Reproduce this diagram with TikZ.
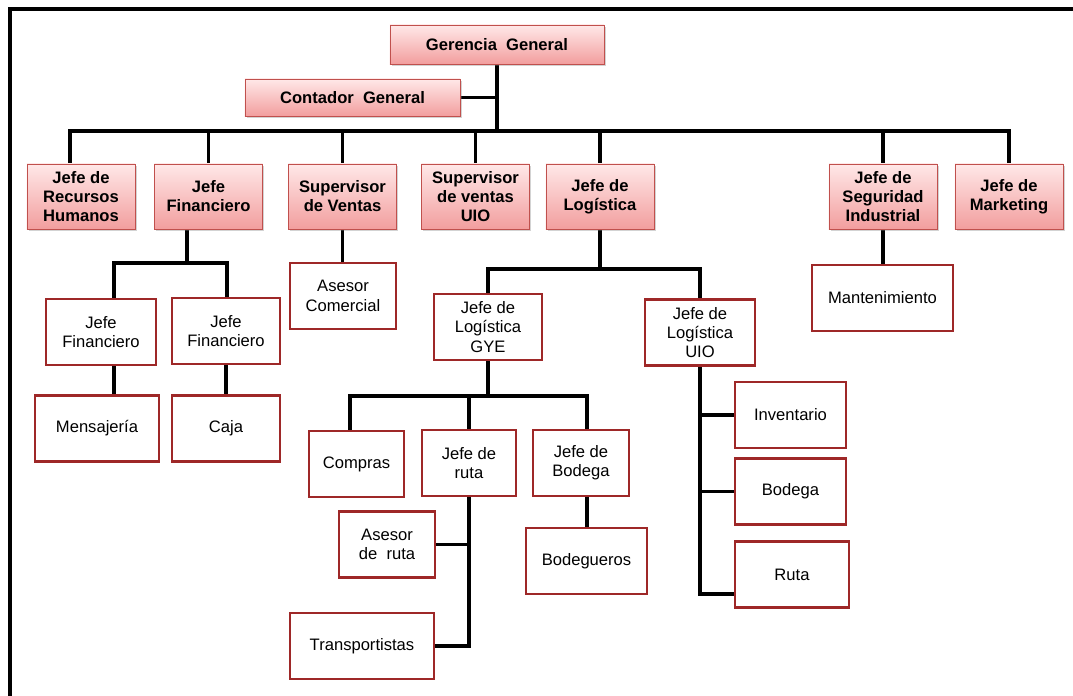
\documentclass[tikz,border=0pt]{standalone}
\usepackage{fontspec}
\setmainfont{Liberation Sans}
\usepackage{xcolor}
\usetikzlibrary{positioning, shadows, backgrounds}

\definecolor{pinktop}{RGB}{255,232,232}
\definecolor{pinkbot}{RGB}{242,158,158}
\definecolor{pinkedge}{RGB}{192,80,77}
\definecolor{boxred}{RGB}{158,40,40}

\begin{document}
\begin{tikzpicture}[x=0.025cm, y=-0.025cm,
    headbox/.style={draw=pinkedge, line width=0.6pt, rectangle, top color=pinktop, bottom color=pinkbot,
        drop shadow={shadow xshift=1.2pt, shadow yshift=-1.2pt, opacity=0.35},
        font=\fontsize{11.8}{13.6}\selectfont\bfseries, align=center, inner sep=1pt,
        minimum width=2.7cm, minimum height=1.625cm},
    unitbox/.style={draw=boxred, line width=1.6pt, rectangle, fill=white,
        font=\fontsize{11.8}{13.8}\selectfont, align=center, inner sep=1pt,
        minimum width=2.7cm, minimum height=1.65cm},
    link/.style={line width=2.3pt, black, line cap=rect},
    frame/.style={line width=3.2pt, black}]
        \useasboundingbox (0,0) rectangle (1073,696);

        % Marco
        \draw[frame] (10,696) -- (10,9) -- (1073,9);

        % Gerencia
        \node[headbox, minimum width=5.35cm, minimum height=0.975cm] (gerencia) at (497,44.5) {Gerencia~ General};
        \node[headbox, minimum width=5.375cm, minimum height=0.925cm] (contador) at (352.5,97.5) {Contador~ General};

        % Jefaturas
        \node[headbox] (rrhh) at (81,196.5) {Jefe de\\Recursos\\Humanos};
        \node[headbox] (jfin) at (208.5,196.5) {Jefe\\Financiero};
        \node[headbox] (supv) at (342.5,196.5) {Supervisor\\de Ventas};
        \node[headbox] (supuio) at (475.5,196.5) {Supervisor\\de ventas\\UIO};
        \node[headbox] (jlog) at (600,196.5) {Jefe de\\Logística};
        \node[headbox] (jseg) at (883,196.5) {Jefe de\\Seguridad\\Industrial};
        \node[headbox] (jmkt) at (1009,196.5) {Jefe de\\Marketing};

        % Financiero
        \node[unitbox, minimum width=2.75cm] (fin1) at (101,332) {Jefe\\Financiero};
        \node[unitbox] (fin2) at (226,331) {Jefe\\Financiero};
        \node[unitbox, minimum width=3.1cm] (mens) at (97,428.5) {Mensajería};
        \node[unitbox] (caja) at (226,428.5) {Caja};

        % Ventas
        \node[unitbox, minimum width=2.65cm] (asesc) at (343,296) {Asesor\\Comercial};

        % Logistica
        \node[unitbox] (lgye) at (488,327) {Jefe de\\Logística\\GYE};
        \node[unitbox, minimum width=2.75cm] (luio) at (700,332.5) {Jefe de\\Logística\\UIO};
        \node[unitbox, minimum width=2.375cm] (compras) at (356.5,464) {Compras};
        \node[unitbox, minimum width=2.35cm] (jruta) at (469,463) {Jefe de\\ruta};
        \node[unitbox, minimum width=2.4cm] (jbod) at (581,463) {Jefe de\\Bodega};
        \node[unitbox, minimum width=2.4cm] (asesr) at (387,544.5) {Asesor\\de~ ruta};
        \node[unitbox, minimum width=3.6cm] (transp) at (362,646) {Transportistas};
        \node[unitbox, minimum width=3.025cm] (bodeg) at (586.5,561) {Bodegueros};
        \node[unitbox, minimum width=2.775cm] (inv) at (790.5,415) {Inventario};
        \node[unitbox, minimum width=2.775cm] (bod) at (790.5,491.5) {Bodega};
        \node[unitbox, minimum width=2.85cm] (ruta) at (792,574.5) {Ruta};

        % Seguridad
        \node[unitbox, minimum width=3.525cm] (mant) at (882.5,298) {Mantenimiento};

        % Lineas
        \begin{scope}[on background layer]
        \coordinate (busL) at (70,131);
        \coordinate (busR) at (1009,131);
        \draw[link] (gerencia.south) -- (gerencia.south |- busL);
        \draw[link] (contador.east) -- (contador.east -| gerencia.south);
        \draw[link] (busL |- rrhh.north) -- (busL) -- (busR) -- (jmkt.north);
        \draw[link] (jfin.north |- busL) -- (jfin.north);
        \draw[link] (supv.north |- busL) -- (supv.north);
        \draw[link] (supuio.north |- busL) -- (supuio.north);
        \draw[link] (jlog.north |- busL) -- (jlog.north);
        \draw[link] (jseg.north |- busL) -- (jseg.north);

        \coordinate (finT) at (187,263);
        \coordinate (finL) at (114,263);
        \coordinate (finR) at (227,263);
        \draw[link] (jfin.south -| finT) -- (finT);
        \draw[link] (finL |- fin1.north) -- (finL) -- (finR) -- (finR |- fin2.north);
        \draw[link] (finL |- fin1.south) -- (finL |- mens.north);
        \draw[link] (fin2.south) -- (caja.north);

        \draw[link] (supv.south) -- (supv.south |- asesc.north);

        \coordinate (logT) at (600,269);
        \draw[link] (jlog.south) -- (logT);
        \draw[link] (lgye.north) |- (logT) -| (luio.north);

        \coordinate (gyeT) at (488,396);
        \coordinate (gyeL) at (350,396);
        \coordinate (gyeR) at (587,396);
        \draw[link] (lgye.south) -- (gyeT);
        \draw[link] (gyeL |- compras.north) -- (gyeL) -- (gyeR) -- (gyeR |- jbod.north);
        \draw[link] (jruta.north |- gyeT) -- (jruta.north);
        \draw[link] (asesr.east) -| (jruta.south);
        \draw[link] (transp.east) -| (jruta.south);
        \draw[link] (gyeR |- jbod.south) -- (gyeR |- bodeg.north);

        \coordinate (uioB) at (700,594);
        \draw[link] (luio.south) -- (uioB) -- (uioB -| ruta.west);
        \draw[link] (luio.south |- inv.west) -- (inv.west);
        \draw[link] (luio.south |- bod.west) -- (bod.west);

        \draw[link] (jseg.south) -- (jseg.south |- mant.north);
        \end{scope}
\end{tikzpicture}
\end{document}
